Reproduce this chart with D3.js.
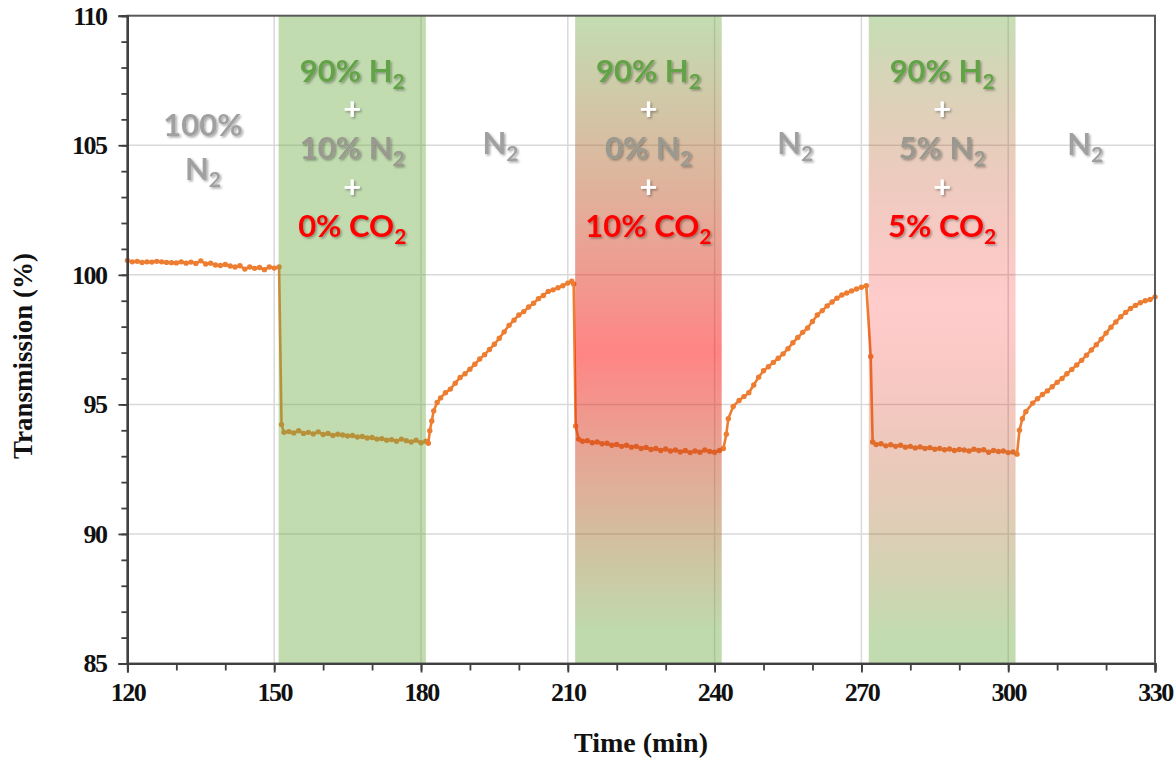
<!DOCTYPE html>
<html><head><meta charset="utf-8">
<script src="https://cdn.jsdelivr.net/npm/d3@7"></script>
<style>
html,body{margin:0;padding:0;background:#fff;}
svg{display:block;}
</style></head>
<body>
<script>
// ---------------- DATA ----------------
const xTicks = [120,150,180,210,240,270,300,330];
const yTicks = [85,90,95,100,105,110];

const n2Initial = [[120,100.55],[121,100.50],[122,100.52],[123,100.48],[124,100.50],[125,100.49],[126,100.52],[127,100.50],[128,100.48],[129,100.47],[130,100.46],[131,100.50],[132,100.45],[133,100.49],[134,100.44],[135,100.54],[136,100.42],[137,100.45],[138,100.38],[139,100.36],[140,100.40],[141,100.34],[142,100.30],[143,100.35],[144,100.22],[145,100.30],[146,100.25],[147,100.28],[148,100.20],[149,100.30],[150,100.26],[151,100.30]];
const h2Only = [[151.5,94.22],[152,93.92],[153,93.95],[154,93.90],[155,93.98],[156,93.88],[157,93.92],[158,93.86],[159,93.94],[160,93.84],[161,93.88],[162,93.80],[163,93.85],[164,93.82],[165,93.78],[166,93.80],[167,93.74],[168,93.76],[169,93.70],[170,93.72],[171,93.66],[172,93.68],[173,93.62],[174,93.64],[175,93.58],[176,93.66],[177,93.60],[178,93.55],[179,93.62],[180,93.52],[181,93.58],[181.5,93.50]];
const n2Purge1 = [[181.8,93.98],[182.2,94.36],[182.6,94.75],[183.3,95.07],[184,95.25],[185,95.45],[186,95.59],[187,95.82],[188,96.04],[189,96.18],[190,96.36],[191,96.55],[192,96.75],[193,96.92],[194,97.12],[195,97.32],[196,97.55],[197,97.80],[198,98.05],[199,98.25],[200,98.45],[201,98.58],[202,98.76],[203,98.90],[204,99.08],[205,99.20],[206,99.36],[207,99.42],[208,99.50],[209,99.58],[210,99.68],[210.8,99.75],[211.2,99.65]];
const co2Ten = [[211.6,94.17],[212.2,93.66],[213,93.58],[214,93.60],[215,93.52],[216,93.55],[217,93.48],[218,93.50],[219,93.42],[220,93.45],[221,93.38],[222,93.42],[223,93.35],[224,93.38],[225,93.30],[226,93.34],[227,93.26],[228,93.30],[229,93.22],[230,93.28],[231,93.20],[232,93.24],[233,93.16],[234,93.22],[235,93.14],[236,93.20],[237,93.15],[238,93.24],[239,93.18],[240,93.15],[241,93.22]];
const n2Purge2 = [[241.8,93.30],[242.4,93.85],[242.8,94.45],[243.8,94.92],[245,95.15],[246,95.30],[247,95.45],[248,95.75],[249,96.05],[250,96.30],[251,96.45],[252,96.62],[253,96.78],[254,96.95],[255,97.15],[256,97.38],[257,97.58],[258,97.78],[259,97.95],[260,98.20],[261,98.45],[262,98.62],[263,98.80],[264,98.95],[265,99.10],[266,99.22],[267,99.30],[268,99.38],[269,99.45],[270,99.52],[271,99.58]];
const co2Five = [[271.9,96.85],[272.3,93.55],[273,93.45],[274,93.48],[275,93.40],[276,93.44],[277,93.38],[278,93.42],[279,93.35],[280,93.38],[281,93.32],[282,93.36],[283,93.30],[284,93.33],[285,93.27],[286,93.30],[287,93.25],[288,93.28],[289,93.22],[290,93.26],[291,93.24],[292,93.20],[293,93.27],[294,93.22],[295,93.25],[296,93.15],[297,93.22],[298,93.18],[299,93.20],[300,93.14],[301,93.16],[301.8,93.08]];
const n2Purge3 = [[302.3,94.00],[302.9,94.45],[303.6,94.72],[305,95.05],[306,95.22],[307,95.38],[308,95.52],[309,95.68],[310,95.85],[311,96.00],[312,96.18],[313,96.35],[314,96.52],[315,96.70],[316,96.90],[317,97.10],[318,97.30],[319,97.52],[320,97.75],[321,97.98],[322,98.18],[323,98.38],[324,98.55],[325,98.70],[326,98.82],[327,98.92],[328,99.00],[329,99.05],[330,99.15]];

// gas exposure windows (min)
const bandStart = [150.9, 211.5, 271.5];
const bandEnd   = [181.0, 241.45, 301.5];
const bandFill  = ["band0", "band10", "band5"];
const h2Text  = ["90% H", "90% H", "90% H"];
const n2Text  = ["10% N", "0% N", "5% N"];
const co2Text = ["0% CO", "10% CO", "5% CO"];
const purgeStart = [181.0, 241.45];
const purgeEnd   = [211.5, 271.5];

// ---------------- LAYOUT ----------------
const W = 1176, H = 760;
const m = {left: 127.4, right: W - 1155, top: 15.7, bottom: H - 663.5};
const iw = W - m.left - m.right, ih = H - m.top - m.bottom;

const svg = d3.select("body").append("svg").attr("width", W).attr("height", H);
const defs = svg.append("defs");

const green = "rgb(112,173,71)";
function grad(id, stops){
  const g = defs.append("linearGradient").attr("id", id)
    .attr("x1",0).attr("y1",0).attr("x2",0).attr("y2",1);
  stops.forEach(s => g.append("stop").attr("offset", s[0]).attr("stop-color", s[1]).attr("stop-opacity", s[2]));
}
grad("band0", [[0, green, 0.43],[1, green, 0.43]]);
grad("band10", [[0, green, 0.42],[0.52, "rgb(255,0,0)", 0.48],[0.95, green, 0.45],[1, green, 0.45]]);
grad("band5", [[0, green, 0.40],[0.45, "rgb(255,0,0)", 0.2],[0.96, green, 0.43],[1, green, 0.43]]);

const f = defs.append("filter").attr("id","shadow").attr("x","-10%").attr("y","-20%").attr("width","130%").attr("height","150%");
f.append("feDropShadow").attr("dx",1.5).attr("dy",1.5).attr("stdDeviation",1).attr("flood-color","#000").attr("flood-opacity",0.35);

const g = svg.append("g").attr("transform", `translate(${m.left},${m.top})`);

const x = d3.scaleLinear().domain([120,330]).range([0, iw]);
const y = d3.scaleLinear().domain([85,110]).range([ih, 0]);

// gridlines
g.append("g").selectAll("line").data(yTicks.filter(d => d>85 && d<110)).join("line")
  .attr("x1",0).attr("x2",iw).attr("y1",d=>y(d)).attr("y2",d=>y(d))
  .attr("stroke","#d9d9d9").attr("stroke-width",1.5);
g.append("g").selectAll("line").data(xTicks.filter(d => d>120 && d<330)).join("line")
  .attr("y1",0).attr("y2",ih).attr("x1",d=>x(d)).attr("x2",d=>x(d))
  .attr("stroke","#d9d9d9").attr("stroke-width",1.5);

// data line
const all = [].concat(n2Initial, h2Only, n2Purge1, co2Ten, n2Purge2, co2Five, n2Purge3);
const line = d3.line().x(d=>x(d[0])).y(d=>y(d[1]));
g.append("path").datum(all).attr("d", line).attr("fill","none")
  .attr("stroke","#ed7d31").attr("stroke-width",2.6).attr("stroke-linejoin","round");
g.append("g").selectAll("circle").data(all).join("circle")
  .attr("cx",d=>x(d[0])).attr("cy",d=>y(d[1])).attr("r",2.7).attr("fill","#ed7d31");

// shaded bands
g.append("g").selectAll("rect").data(bandStart).join("rect")
  .attr("x",(d)=>x(d)).attr("y",0)
  .attr("width",(d,i)=>x(bandEnd[i])-x(d)).attr("height",ih)
  .attr("fill",(d,i)=>`url(#${bandFill[i]})`);

// frame + axes
g.append("rect").attr("x",0).attr("y",0).attr("width",iw).attr("height",ih)
  .attr("fill","none").attr("stroke","#595959").attr("stroke-width",2);

const yAxisMinor = d3.axisLeft(y).tickValues(d3.range(85,111,1)).tickSize(6).tickFormat("");
const yAxis = d3.axisLeft(y).tickValues(yTicks).tickSize(9).tickPadding(12).tickFormat(d3.format("d"));
const xAxisMinor = d3.axisBottom(x).tickValues(d3.range(120,331,10)).tickSize(7).tickFormat("");
const xAxis = d3.axisBottom(x).tickValues(xTicks).tickSize(9).tickPadding(10).tickFormat(d3.format("d"));

function styleAxis(sel){
  sel.select(".domain").attr("stroke","#404040").attr("stroke-width",2);
  sel.selectAll(".tick line").attr("stroke","#404040").attr("stroke-width",1.8);
  sel.selectAll("text").attr("font-family","'Liberation Serif','Times New Roman',serif")
    .attr("font-weight","bold").attr("font-size","26px").attr("fill","#111").attr("letter-spacing","-1.5px");
}
g.append("g").call(yAxisMinor).call(styleAxis);
g.append("g").call(yAxis).call(styleAxis);
g.append("g").attr("transform",`translate(0,${ih})`).call(xAxisMinor).call(styleAxis);
const xa = g.append("g").attr("transform",`translate(0,${ih})`).call(xAxis).call(styleAxis);

// axis titles
svg.append("text").attr("x", 641).attr("y", 752).attr("text-anchor","middle")
  .attr("font-family","'Liberation Serif','Times New Roman',serif").attr("font-weight","bold")
  .attr("font-size","28px").attr("fill","#111").text("Time (min)");
svg.append("text").attr("transform","translate(32,356) rotate(-90)").attr("text-anchor","middle")
  .attr("font-family","'Liberation Serif','Times New Roman',serif").attr("font-weight","bold")
  .attr("font-size","27px").attr("fill","#111").text("Transmission (%)");

// annotations
const FONT = "Lato, 'Open Sans', sans-serif";
function label(cx, by, main, sub, color){
  const t = svg.append("text").attr("x", cx).attr("y", by).attr("text-anchor","middle")
    .attr("font-family", FONT).attr("font-weight","bold").attr("font-size","31px")
    .attr("fill", color).attr("filter","url(#shadow)");
  t.append("tspan").text(main);
  if (sub) {
    t.append("tspan").attr("font-size","21px").attr("dy", 7).text(sub);
  }
  return t;
}
const gray = "#a0a0a0", grayIn = "#999990", greenT = "#64a346", red = "#ff0000";
bandStart.forEach((s, i) => {
  const cx = m.left + (x(s) + x(bandEnd[i])) / 2;
  label(cx, 82, h2Text[i], "2", greenT);
  label(cx, 120, "+", null, "#ffffff");
  label(cx, 159, n2Text[i], "2", grayIn);
  label(cx, 198, "+", null, "#ffffff");
  label(cx, 237, co2Text[i], "2", red);
});
// first N2 region
const c0 = m.left + (x(120) + x(bandStart[0])) / 2;
label(c0, 136, "100%", null, gray);
label(c0, 180, "N", "2", gray);
purgeStart.forEach((s, i) => {
  const cx = m.left + (x(s) + x(purgeEnd[i])) / 2;
  label(cx, 154, "N", "2", gray);
});
label(m.left + (x(bandEnd[2]) + x(330)) / 2, 155, "N", "2", gray);
</script>
</body></html>
